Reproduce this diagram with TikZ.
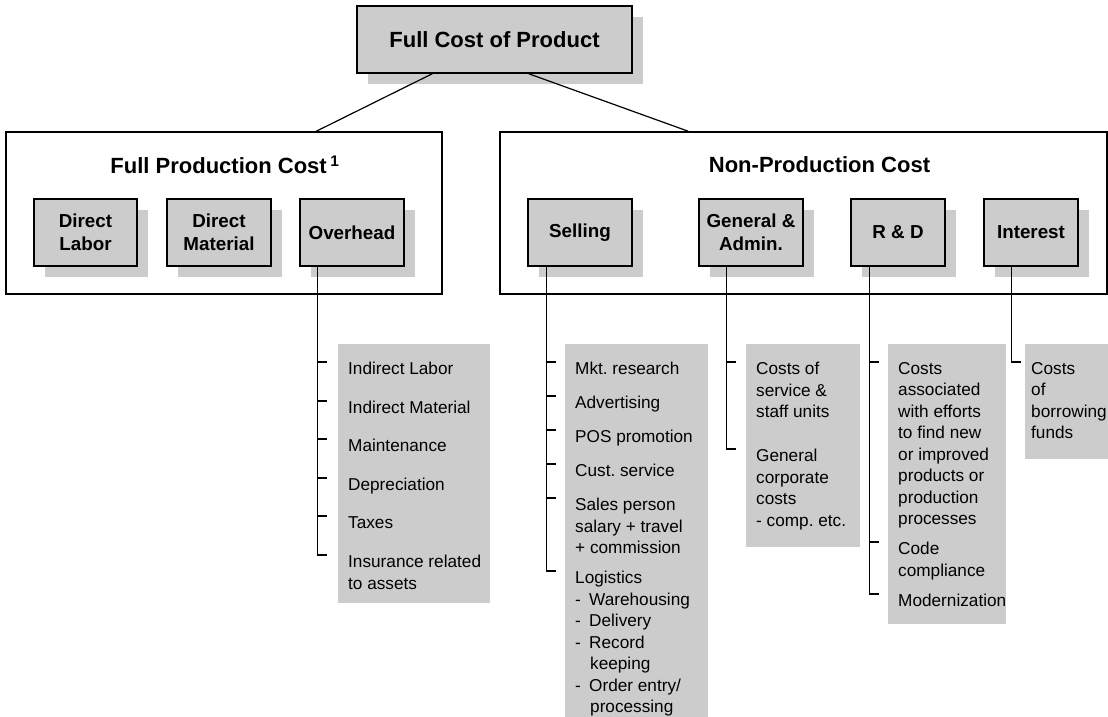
\documentclass[tikz,border=0pt]{standalone}
\usepackage{fontspec}
\setmainfont{Liberation Sans}
\usetikzlibrary{shadows}
\definecolor{boxgray}{RGB}{204,204,204}
\frenchspacing

\begin{document}
\begin{tikzpicture}
    [
    x=1pt, y=-1pt,
    every node/.style={inner sep=0pt},
    costbox/.style={rectangle,draw,line width=1.5pt,fill=boxgray,align=center,minimum height=67pt,
      font=\bfseries\fontsize{18.8}{23}\selectfont,
      drop shadow={shadow xshift=11pt,shadow yshift=-11pt,fill=boxgray,opacity=1}},
    group/.style={rectangle,draw,line width=1.5pt,minimum height=162pt},
    heading/.style={font=\bfseries\fontsize{22}{26}\selectfont},
    panel/.style={rectangle,fill=boxgray,anchor=north west},
    entry/.style={anchor=north west,align=left,font=\fontsize{17.2}{21.5}\selectfont},
    link/.style={line width=1.2pt}
    ]
    \useasboundingbox (0,0) rectangle (1108,717);

    \node (prod) at (224,213) [group,minimum width=436pt] {};
    \node (nonprod) at (803.5,213) [group,minimum width=607pt] {};
    \node (prodhead) at (225,165) [heading] {Full Production Cost\,\textsuperscript{1}};
    \node (nonprodhead) at (819.5,165) [heading] {Non-Production Cost};

    \node (top) at (494.5,39.5) [costbox,heading,minimum width=275pt] {Full Cost of Product};
    \draw [link] ([xshift=76pt]top.south west) to ([xshift=311pt]prod.north west);
    \draw [link] ([xshift=-104pt]top.south east) to ([xshift=189pt]nonprod.north west);

    \node (dl) at (85.5,232.5) [costbox,minimum width=103pt] {Direct\\Labor};
    \node (dm) at (219,232.5) [costbox,minimum width=104pt] {Direct\\Material};
    \node (ovh) at (352,232.5) [costbox,minimum width=104pt] {Overhead};
    \node (sell) at (580,232.5) [costbox,minimum width=104pt] {Selling};
    \node (adm) at (751,232.5) [costbox,minimum width=104pt] {General \&\\Admin.};
    \node (rd) at (898,232.5) [costbox,minimum width=94pt] {R \& D};
    \node (int) at (1031,232.5) [costbox,minimum width=94pt] {Interest};

    \node (ovhpanel) at (338,344) [panel,minimum width=152pt,minimum height=259pt] {};
    \node (sellpanel) at (565,344) [panel,minimum width=143pt,minimum height=373pt] {};
    \node (admpanel) at (746,344) [panel,minimum width=114pt,minimum height=203pt] {};
    \node (rdpanel) at (888,344) [panel,minimum width=118pt,minimum height=280pt] {};
    \node (intpanel) at (1025,344) [panel,minimum width=83pt,minimum height=115pt] {};

    \node (ovh1) at (348,362) [entry] {Indirect Labor};
    \node (ovh2) at (348,401) [entry] {Indirect Material};
    \node (ovh3) at (348,439) [entry] {Maintenance};
    \node (ovh4) at (348,478) [entry] {Depreciation};
    \node (ovh5) at (348,516) [entry] {Taxes};
    \node (ovh6) at (348,555) [entry] {Insurance related\\to assets};

    \node (sell1) at (575,362) [entry] {Mkt. research};
    \node (sell2) at (575,396) [entry] {Advertising};
    \node (sell3) at (575,430) [entry] {POS promotion};
    \node (sell4) at (575,464) [entry] {Cust. service};
    \node (sell5) at (575,498) [entry] {Sales person\\salary + travel\\+ commission};
    \node (sell6) at (575,571) [entry] {Logistics\\\makebox[14pt][l]{-}Warehousing\\\makebox[14pt][l]{-}Delivery\\\makebox[14pt][l]{-}Record\\\hspace*{15pt}keeping\\\makebox[14pt][l]{-}Order entry/\\\hspace*{15pt}processing};

    \node (adm1) at (756,362) [entry] {Costs of\\service \&\\staff units};
    \node (adm2) at (756,449) [entry] {General\\corporate\\costs\\- comp. etc.};

    \node (rd1) at (898,362) [entry] {Costs\\associated\\with efforts\\to find new\\or improved\\products or\\production\\processes};
    \node (rd2) at (898,542) [entry] {Code\\compliance};
    \node (rd3) at (898,594) [entry] {Modernization};

    \node (int1) at (1031,362) [entry] {Costs\\of\\borrowing\\funds};

    \coordinate (ovhstem) at ([xshift=18pt]ovh.south west);
    \coordinate (sellstem) at ([xshift=19pt]sell.south west);
    \coordinate (admstem) at ([xshift=28pt]adm.south west);
    \coordinate (rdstem) at ([xshift=19pt]rd.south west);
    \coordinate (intstem) at ([xshift=28pt]int.south west);

    \draw [link] (ovhstem) -- (ovhstem |- ovh6.north) -- ++(10,0);
    \draw [link] (ovhstem |- ovh1.north) -- ++(10,0);
    \draw [link] (ovhstem |- ovh2.north) -- ++(10,0);
    \draw [link] (ovhstem |- ovh3.north) -- ++(10,0);
    \draw [link] (ovhstem |- ovh4.north) -- ++(10,0);
    \draw [link] (ovhstem |- ovh5.north) -- ++(10,0);

    \draw [link] (sellstem) -- (sellstem |- sell6.north) -- ++(10,0);
    \draw [link] (sellstem |- sell1.north) -- ++(10,0);
    \draw [link] (sellstem |- sell2.north) -- ++(10,0);
    \draw [link] (sellstem |- sell3.north) -- ++(10,0);
    \draw [link] (sellstem |- sell4.north) -- ++(10,0);
    \draw [link] (sellstem |- sell5.north) -- ++(10,0);

    \draw [link] (admstem) -- (admstem |- adm2.north) -- ++(10,0);
    \draw [link] (admstem |- adm1.north) -- ++(10,0);

    \draw [link] (rdstem) -- (rdstem |- rd3.north) -- ++(10,0);
    \draw [link] (rdstem |- rd1.north) -- ++(10,0);
    \draw [link] (rdstem |- rd2.north) -- ++(10,0);

    \draw [link] (intstem) -- (intstem |- int1.north) -- ++(10,0);
  \end{tikzpicture}
\end{document}
